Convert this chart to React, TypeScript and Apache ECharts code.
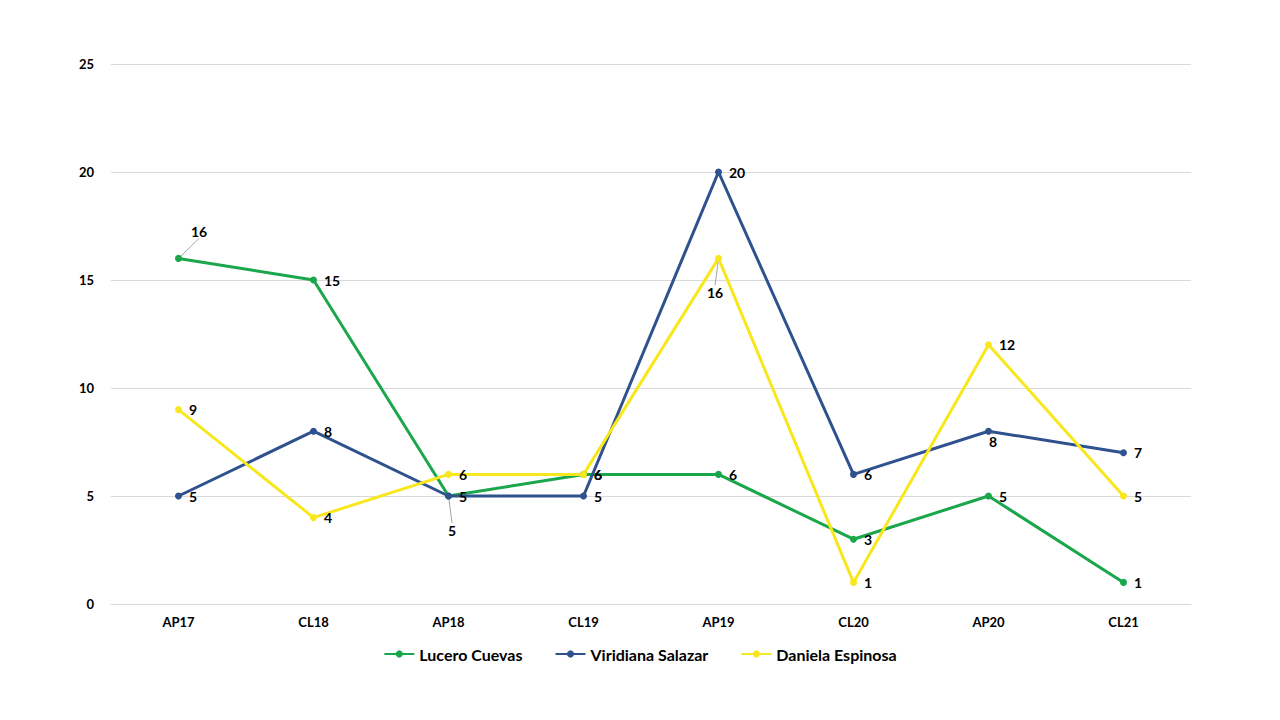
import React, { useEffect, useRef } from "react";
import * as echarts from "echarts";

const categories = ["AP17", "CL18", "AP18", "CL19", "AP19", "CL20", "AP20", "CL21"];
const seriesNames = ["Lucero Cuevas", "Viridiana Salazar", "Daniela Espinosa"];
const luceroCuevas = [16, 15, 5, 6, 6, 3, 5, 1];
const viridianaSalazar = [5, 8, 5, 5, 20, 6, 8, 7];
const danielaEspinosa = [9, 4, 6, 6, 16, 1, 12, 5];
const colors = ["#1AA64A", "#2F528F", "#F8E71C"];
const yTicks = { min: 0, max: 25, interval: 5 };

// label displacements (dx, dy) from default "right" placement, with leader lines
const labelMoves: Record<string, [number, number]> = {
  "0-0": [2, -27],
  "0-2": [-11, 34],
  "2-4": [-22, 34],
  "1-6": [-10, 10],
};

export default function App() {
  const ref = useRef<HTMLDivElement>(null);
  useEffect(() => {
    if (!ref.current) return;
    const chart = echarts.init(ref.current, null, { renderer: "svg" });
    const all = [luceroCuevas, viridianaSalazar, danielaEspinosa];
    const font = "Lato, 'Open Sans', sans-serif";
    chart.setOption({
      animation: false,
      backgroundColor: "#ffffff",
      textStyle: { fontFamily: font },
      grid: { left: 111, right: 89, top: 64, bottom: 116, containLabel: false },
      legend: {
        bottom: 53,
        left: "center",
        itemGap: 32,
        itemWidth: 30,
        itemHeight: 9,
        data: seriesNames,
        textStyle: { fontFamily: font, fontWeight: "bold", fontSize: 16, color: "#000" },
      },
      xAxis: {
        type: "category",
        data: categories,
        boundaryGap: true,
        axisLine: { show: true, lineStyle: { color: "#d9d9d9", width: 1 } },
        axisTick: { show: false },
        axisLabel: { color: "#000", fontWeight: "bold", fontSize: 13, margin: 11, fontFamily: font },
      },
      yAxis: {
        type: "value",
        min: yTicks.min,
        max: yTicks.max,
        interval: yTicks.interval,
        axisLine: { show: false },
        axisTick: { show: false },
        splitLine: { lineStyle: { color: "#d9d9d9", width: 1 } },
        axisLabel: { color: "#000", fontWeight: "bold", fontSize: 13, margin: 17, fontFamily: font },
      },
      series: all.map((vals, si) => ({
        name: seriesNames[si],
        type: "line",
        data: vals.map((v, di) => {
          const mv = labelMoves[`${si}-${di}`];
          return mv
            ? { value: v, labelLine: { show: true, lineStyle: { color: "#a6a6a6", width: 1 } } }
            : { value: v, labelLine: { show: false } };
        }),
        color: colors[si],
        symbol: "circle",
        symbolSize: 7,
        lineStyle: { width: 3, color: colors[si] },
        itemStyle: { color: colors[si] },
        label: {
          show: true,
          position: "right",
          distance: 7,
          color: "#000",
          fontWeight: "bold",
          fontSize: 14,
          fontFamily: font,
        },
        labelLine: { show: false, lineStyle: { color: "#a6a6a6", width: 1 } },
        labelLayout: (p: any) => {
          const mv = labelMoves[`${si}-${p.dataIndex}`];
          return mv ? { dx: mv[0], dy: mv[1] } : {};
        },
      })),
    });
    return () => chart.dispose();
  }, []);
  return (
    <div
      ref={ref}
      style={{ position: "fixed", left: 0, top: 0, width: 1280, height: 720, background: "#fff" }}
    />
  );
}
